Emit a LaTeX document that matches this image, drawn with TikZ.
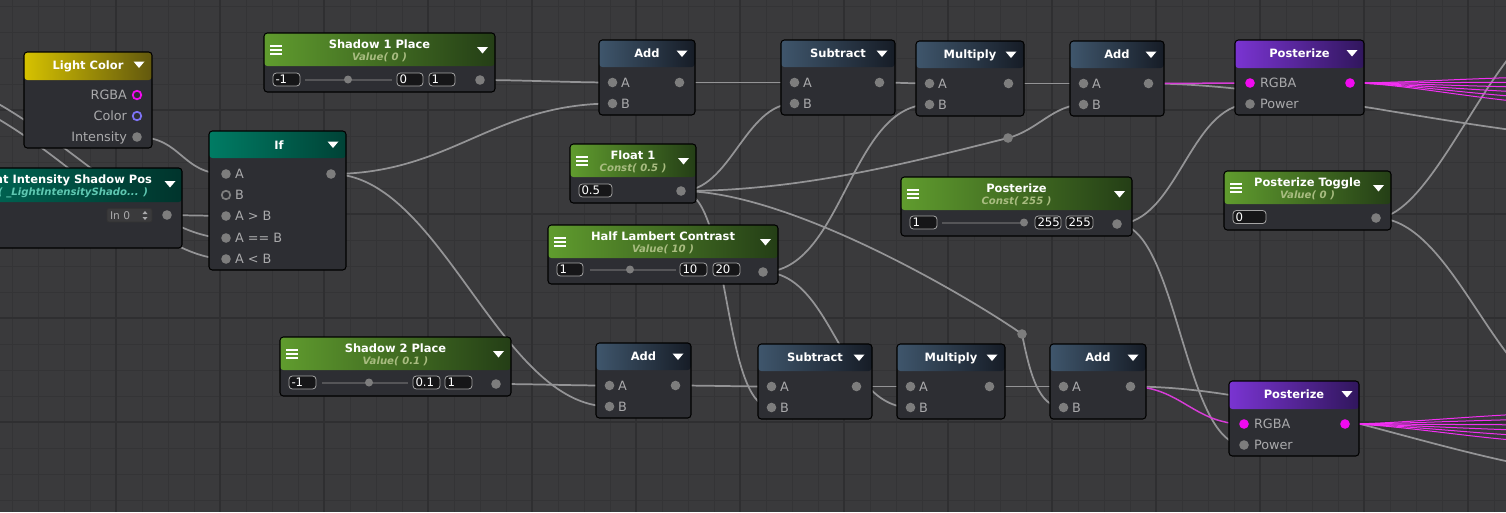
\documentclass[tikz,border=0pt]{standalone}
\usepackage{fontspec}
\setmainfont{DejaVu Sans}
\usepackage{tikz}
\usetikzlibrary{calc}
\pgfdeclarelayer{canvas}
\pgfdeclarelayer{wires}
\pgfsetlayers{canvas,wires,main}

\definecolor{canvasc}{RGB}{58,58,60}
\definecolor{gmin}{RGB}{52,52,54}
\definecolor{gmaj}{RGB}{47,47,49}
\definecolor{bodyc}{RGB}{45,46,51}
\definecolor{wirec}{RGB}{148,148,150}
\definecolor{portc}{RGB}{125,125,125}
\definecolor{magc}{RGB}{240,10,240}
\definecolor{pinkc}{RGB}{215,60,215}
\definecolor{colring}{RGB}{125,115,245}
\definecolor{labelc}{RGB}{170,170,172}
\definecolor{fieldfill}{RGB}{22,22,24}
\definecolor{fieldedge}{RGB}{165,165,165}
\definecolor{slidec}{RGB}{85,85,88}
\definecolor{subgreen}{RGB}{168,188,128}
\definecolor{subteal}{RGB}{95,200,178}
\definecolor{greenL}{RGB}{96,156,46}
\definecolor{greenR}{RGB}{36,62,22}
\definecolor{blueL}{RGB}{63,86,108}
\definecolor{blueR}{RGB}{22,28,38}
\definecolor{purL}{RGB}{122,52,210}
\definecolor{purR}{RGB}{48,22,92}
\definecolor{yelL}{RGB}{214,194,0}
\definecolor{yelR}{RGB}{98,88,14}
\definecolor{tealL}{RGB}{0,124,100}
\definecolor{tealR}{RGB}{0,66,54}
\definecolor{teaLL}{RGB}{0,104,86}
\definecolor{teaLR}{RGB}{0,52,44}

\begin{document}
\begin{tikzpicture}[x=0.75pt, y=-0.75pt,
  every node/.style={inner sep=0pt, outer sep=0pt},
  nbody/.style={fill=bodyc, rounded corners=2.5pt},
  nedge/.style={draw=black, line width=0.8pt, rounded corners=2.5pt},
  hdr/.style={rounded corners=2.5pt},
  ttl/.style={text=white, font=\fontsize{8.6}{10}\selectfont\bfseries, anchor=base},
  subt/.style={text=subgreen, font=\fontsize{7.6}{9}\selectfont\bfseries\itshape, anchor=base},
  plab/.style={text=labelc, font=\fontsize{9.6}{11}\selectfont},
  ftxt/.style={text=white, font=\fontsize{8.8}{10}\selectfont, anchor=base west},
  fld/.style={draw=fieldedge, fill=fieldfill, line width=0.6pt, rounded corners=2.5pt},
  slid/.style={draw=slidec, line width=1.5pt},
  wire/.style={draw=wirec, line width=1.3pt},
  pinkw/.style={draw=pinkc, line width=1.1pt},
  pinkf/.style={draw=magc!85!white, line width=0.75pt},
  hamb/.style={draw=white, line width=1.5pt}]
  \useasboundingbox (0,0) rectangle (1506,512);
  \begin{pgfonlayer}{canvas}
    \fill[canvasc] (0,0) rectangle (1506,512);
    \foreach \gx in {12,38,...,1506} \draw[gmin, line width=0.6pt] (\gx,0) -- (\gx,512);
    \foreach \gy in {6,32,...,512} \draw[gmin, line width=0.6pt] (0,\gy) -- (1506,\gy);
    \foreach \gx in {116,220,...,1506} \draw[gmaj, line width=0.9pt] (\gx,0) -- (\gx,512);
    \foreach \gy in {110,214,...,512} \draw[gmaj, line width=0.9pt] (0,\gy) -- (1506,\gy);
  \end{pgfonlayer}
  \clip (0,0) rectangle (1506,512);

  % Light Color
  \fill[nbody] (24,52) rectangle (152,148);
  \shade[hdr, left color=yelL, right color=yelR] (24,52) rectangle (152,80);
  \draw[nedge] (24,52) rectangle (152,148);
  \node[ttl] (lc-t) at (88,69) {Light Color};
  \fill[white] (133.5,61.5) -- (144.5,61.5) -- (139,68) -- cycle;
  \coordinate (lc-rgba) at (137,95);
  \coordinate (lc-col) at (137,116);
  \coordinate (lc-int) at (137,137);
  \node[plab, anchor=base east] (lc-l1) at (127,99.6) {RGBA};
  \node[plab, anchor=base east] (lc-l2) at (127,120.6) {Color};
  \node[plab, anchor=base east] (lc-l3) at (127,141.6) {Intensity};
  \draw[magc, fill=bodyc, line width=1.3pt] (lc-rgba) circle (3.2pt);
  \draw[colring, fill=bodyc, line width=1.3pt] (lc-col) circle (3.2pt);
  \fill[portc] (lc-int) circle (3.6pt);

  % Light Intensity Shadow Pos
  \fill[nbody] (-30,168) rectangle (182,248);
  \shade[hdr, left color=teaLL, right color=teaLR] (-30,168) rectangle (182,202);
  \draw[nedge] (-30,168) rectangle (182,248);
  \node[ttl, anchor=base east] (sp-t) at (152,183) {Light Intensity Shadow Pos};
  \node[subt, text=subteal, anchor=base east] (sp-s) at (148,195.7) {( \_LightIntensityShado... )};
  \fill[white] (164.5,181) -- (175.5,181) -- (170,187.5) -- cycle;
  \draw[fill=canvasc, draw=black!60!gray, line width=0.6pt, rounded corners=1.5pt] (107,208.5) rectangle (152,222);
  \node[ftxt, text=labelc, font=\fontsize{8}{9}\selectfont] (sp-in) at (110,219) {In 0};
  \fill[labelc] (142.5,214) -- (147.5,214) -- (145,211) -- cycle;
  \fill[labelc] (142.5,217) -- (147.5,217) -- (145,220) -- cycle;
  \coordinate (sp-o) at (167,215);
  \fill[portc] (sp-o) circle (3.6pt);

  % If
  \fill[nbody] (209,131) rectangle (346,270);
  \shade[hdr, left color=tealL, right color=tealR] (209,131) rectangle (346,158);
  \draw[nedge] (209,131) rectangle (346,270);
  \node[ttl] (if-t) at (279,149) {If};
  \fill[white] (327.5,141.5) -- (338.5,141.5) -- (333,148) -- cycle;
  \coordinate (if-a) at (226,174);
  \coordinate (if-b) at (226,195);
  \coordinate (if-gt) at (226,216);
  \coordinate (if-eq) at (226,238);
  \coordinate (if-lt) at (226,259);
  \coordinate (if-o) at (331,174);
  \node[plab, anchor=base west] (if-l1) at (235,178.6) {A};
  \node[plab, anchor=base west] (if-l2) at (235,199.6) {B};
  \node[plab, anchor=base west] (if-l3) at (235,220.6) {A > B};
  \node[plab, anchor=base west] (if-l4) at (235,242.6) {A == B};
  \node[plab, anchor=base west] (if-l5) at (235,263.6) {A < B};
  \foreach \p in {a,gt,eq,lt,o} \fill[portc] (if-\p) circle (3.6pt);
  \draw[portc, fill=bodyc, line width=1.3pt] (if-b) circle (3.2pt);

  % property nodes
  \foreach \nm/\ttl/\st/\xa/\xb/\yt in {shA/Shadow 1 Place/Value( 0 )/264/495/33,
      flt/Float 1/Const( 0.5 )/570/696/144, hlc/Half Lambert Contrast/Value( 10 )/548/778/225,
      pst/Posterize/Const( 255 )/901/1132/177, tgl/Posterize Toggle/Value( 0 )/1224/1391/171,
      shB/Shadow 2 Place/Value( 0.1 )/280/511/337}{
    \fill[nbody] (\xa,\yt) rectangle (\xb,\yt+59);
    \shade[hdr, left color=greenL, right color=greenR] (\xa,\yt) rectangle (\xb,\yt+33);
    \draw[nedge] (\xa,\yt) rectangle (\xb,\yt+59);
    \foreach \hy in {13,17,21} \draw[hamb] (\xa+6,\yt+\hy) -- (\xa+18,\yt+\hy);
    \node[ttl] (\nm-t) at ({(\xa+\xb)/2},\yt+15) {\ttl};
    \node[subt] (\nm-s) at ({(\xa+\xb)/2},\yt+27.7) {\st};
    \fill[white] (\xb-18,\yt+14) -- (\xb-7,\yt+14) -- (\xb-12.5,\yt+20.5) -- cycle;
    \coordinate (\nm-o) at (\xb-15,\yt+47);
    \fill[portc] (\nm-o) circle (3.6pt);
  }
  \foreach \xa/\xb/\xk/\yy in {305/392/348/79.5, 590/676/630/269.5, 942/1024/1024/222.5, 322/408/369/382.5}{
    \draw[slid] (\xa,\yy) -- (\xb,\yy);
    \fill[portc] (\xk,\yy) circle (3pt);
  }
  \foreach \xa/\xb/\yy/\tx [count=\i] in {273/300/79.5/-1, 397/423/79.5/0, 429/455/79.5/1,
      579/612/190.5/0.5, 557/583/269.5/1, 680/707/269.5/10, 713/740/269.5/20,
      910/937/222.5/1, 1035/1061/222.5/255, 1066/1093/222.5/255, 1233/1266/217/0,
      289/316/382.5/-1, 413/440/382.5/0.1, 445/472/382.5/1}{
    \draw[fld] (\xa,\yy-6.5) rectangle (\xb,\yy+6.5);
    \node[ftxt] (fld\i) at (\xa+2.5,\yy+4.2) {\tx};
  }

  % math nodes
  \foreach \nm/\ttl/\xa/\xb/\yt in {addTa/Add/599/695/40, subT/Subtract/781/895/40,
      mulT/Multiply/916/1024/41, addTb/Add/1070/1164/41, addBa/Add/596/691/343,
      subB/Subtract/758/872/344, mulB/Multiply/897/1005/344, addBb/Add/1050/1146/344}{
    \fill[nbody] (\xa,\yt) rectangle (\xb,\yt+75);
    \shade[hdr, left color=blueL, right color=blueR] (\xa,\yt) rectangle (\xb,\yt+27);
    \draw[nedge] (\xa,\yt) rectangle (\xb,\yt+75);
    \node[ttl] (\nm-t) at ({(\xa+\xb)/2},\yt+17.5) {\ttl};
    \fill[white] (\xb-18.5,\yt+10.5) -- (\xb-7.5,\yt+10.5) -- (\xb-13,\yt+17) -- cycle;
    \coordinate (\nm-A) at (\xa+13.5,\yt+42.5);
    \coordinate (\nm-B) at (\xa+13.5,\yt+63.5);
    \coordinate (\nm-o) at (\xb-15.5,\yt+42.5);
    \node[plab, anchor=base west] (\nm-la) at (\xa+22,\yt+47.1) {A};
    \node[plab, anchor=base west] (\nm-lb) at (\xa+22,\yt+68.1) {B};
    \foreach \p in {A,B,o} \fill[portc] (\nm-\p) circle (3.6pt);
  }

  % posterize nodes
  \foreach \nm/\xa/\xb/\yt in {postT/1235/1364/40, postB/1229/1359/381}{
    \fill[nbody] (\xa,\yt) rectangle (\xb,\yt+75);
    \shade[hdr, left color=purL, right color=purR] (\xa,\yt) rectangle (\xb,\yt+28);
    \draw[nedge] (\xa,\yt) rectangle (\xb,\yt+75);
    \node[ttl] (\nm-t) at ({(\xa+\xb)/2},\yt+17) {Posterize};
    \fill[white] (\xb-17.5,\yt+10) -- (\xb-6.5,\yt+10) -- (\xb-12,\yt+16.5) -- cycle;
    \coordinate (\nm-in) at (\xa+15,\yt+43);
    \coordinate (\nm-pw) at (\xa+15,\yt+64);
    \coordinate (\nm-o) at (\xb-14,\yt+43);
    \node[plab, anchor=base west] (\nm-la) at (\xa+25,\yt+47.6) {RGBA};
    \node[plab, anchor=base west] (\nm-lb) at (\xa+25,\yt+68.6) {Power};
    \fill[magc] (\nm-in) circle (3.6pt);
    \fill[magc] (\nm-o) circle (3.6pt);
    \fill[portc] (\nm-pw) circle (3.6pt);
  }

  % reroute dots and free ends
  \coordinate (rrA) at (1008,138);
  \coordinate (rrB) at (1022,334);
  \fill[portc] (rrA) circle (3.6pt);
  \fill[portc] (rrB) circle (3.6pt);
  \coordinate (lwA) at (-40,85);
  \coordinate (lwB) at (-40,100);
  \coordinate (grA) at (1640,140);
  \coordinate (grB) at (1660,480);
  \coordinate (tgA) at (1560,20);
  \coordinate (tgB) at (1580,405);

  \begin{pgfonlayer}{wires}
    \draw[wire] (lwA) .. controls (60,125) and (150,238) .. (if-eq);
    \draw[wire] (lwB) .. controls (60,140) and (150,259) .. (if-lt);
    \draw[wire] (lc-int) .. controls +(45,0) and +(-45,0) .. (if-a);
    \draw[wire] (sp-o) .. controls +(30,0) and +(-30,0) .. (if-gt);
    \draw[wire] (if-o) .. controls +(120,0) and +(-120,0) .. (addTa-B);
    \draw[wire] (if-o) .. controls +(110,0) and +(-110,0) .. (addBa-B);
    \draw[wire] (shA-o) .. controls +(40,0) and +(-40,0) .. (addTa-A);
    \draw[wire] (addTa-o) .. controls +(40,0) and +(-40,0) .. (subT-A);
    \draw[wire] (subT-o) .. controls +(20,0) and +(-20,0) .. (mulT-A);
    \draw[wire] (mulT-o) .. controls +(30,0) and +(-30,0) .. (addTb-A);
    \draw[wire] (flt-o) .. controls +(50,0) and +(-50,0) .. (subT-B);
    \draw[wire] (flt-o) .. controls +(120,0) and +(-100,25) .. (rrA);
    \draw[wire] (rrA) .. controls +(30,-8) and +(-30,0) .. (addTb-B);
    \draw[wire] (flt-o) .. controls +(110,0) and +(-50,-35) .. (rrB);
    \draw[wire] (rrB) .. controls +(8,40) and +(-25,0) .. (addBb-B);
    \draw[wire] (flt-o) .. controls +(50,0) and +(-50,0) .. (subB-B);
    \draw[wire] (hlc-o) .. controls +(80,0) and +(-80,0) .. (mulT-B);
    \draw[wire] (hlc-o) .. controls +(70,0) and +(-70,0) .. (mulB-B);
    \draw[wire] (shB-o) .. controls +(40,0) and +(-40,0) .. (addBa-A);
    \draw[wire] (addBa-o) .. controls +(30,0) and +(-30,0) .. (subB-A);
    \draw[wire] (subB-o) .. controls +(20,0) and +(-20,0) .. (mulB-A);
    \draw[wire] (mulB-o) .. controls +(30,0) and +(-30,0) .. (addBb-A);
    \draw[wire] (pst-o) .. controls +(60,0) and +(-60,0) .. (postT-pw);
    \draw[wire] (pst-o) .. controls +(60,0) and +(-60,0) .. (postB-pw);
    \draw[wire] (addTb-o) .. controls +(150,0) and +(-150,0) .. (grA);
    \draw[wire] (addBb-o) .. controls +(180,0) and +(-180,0) .. (grB);
    \draw[wire] (tgl-o) .. controls +(60,0) and +(-60,0) .. (tgA);
    \draw[wire] (tgl-o) .. controls +(80,0) and +(-80,0) .. (tgB);
    \draw[pinkw] (addTb-o) .. controls +(40,0) and +(-40,0) .. (postT-in);
    \draw[pinkw] (addBb-o) .. controls +(50,0) and +(-50,0) .. (postB-in);
    \foreach \k in {0,...,5}{
      \coordinate (fT\k) at (1600,{76+6*\k});
      \coordinate (fB\k) at (1600,{412+6.5*\k});
      \draw[pinkf] (postT-o) .. controls +(60,0) and +(-100,0) .. (fT\k);
      \draw[pinkf] (postB-o) .. controls +(60,0) and +(-100,0) .. (fB\k);
    }
  \end{pgfonlayer}
\end{tikzpicture}
\end{document}
